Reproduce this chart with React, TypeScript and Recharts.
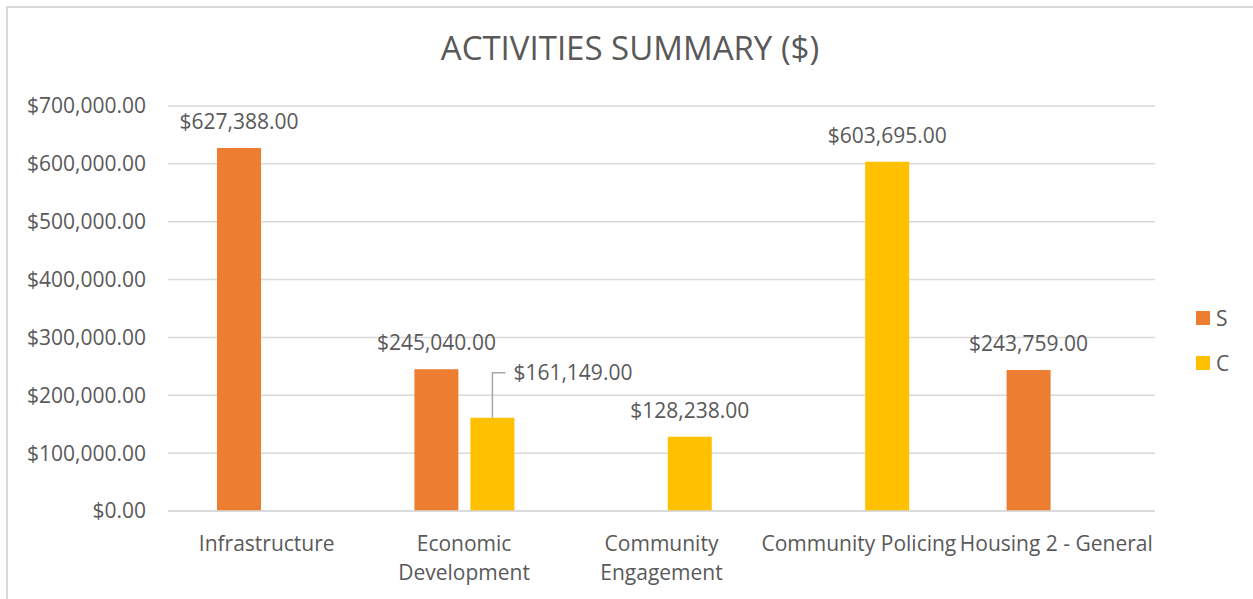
import { Bar, BarChart, CartesianGrid, LabelList, XAxis, YAxis } from "recharts";

const categories = [
  "Infrastructure",
  "Economic Development",
  "Community Engagement",
  "Community Policing",
  "Housing 2 - General",
];

// how Excel wrapped each category label
const tickLines = [
  ["Infrastructure"],
  ["Economic", "Development"],
  ["Community", "Engagement"],
  ["Community Policing"],
  ["Housing 2 - General"],
];

const sValues = [627388, 245040, null, null, 243759];
const cValues = [null, 161149, 128238, 603695, null];

const yTicks = [0, 100000, 200000, 300000, 400000, 500000, 600000, 700000];

const FONT = "'Open Sans', sans-serif";
const FS = 21;
const TEXT = "#595959";
const ORANGE = "#ED7D31";
const YELLOW = "#FFC000";

const data = categories.map((name, i) => ({ name, S: sValues[i], C: cValues[i] }));

const money = (v: number) =>
  "$" + v.toLocaleString("en-US", { minimumFractionDigits: 2, maximumFractionDigits: 2 });

function CategoryTick(props: any) {
  const { x, y, index } = props;
  const lines = tickLines[index] || [];
  return (
    <g>
      {lines.map((line, i) => (
        <text
          key={i}
          x={x}
          y={y + 32 + i * 29}
          textAnchor="middle"
          fill={TEXT}
          fontSize={FS}
          fontFamily={FONT}
        >
          {line}
        </text>
      ))}
    </g>
  );
}

function topLabel(props: any) {
  const { x, y, width, value } = props;
  if (value == null) return null;
  return (
    <text
      x={x + width / 2}
      y={y - 19}
      textAnchor="middle"
      fill={TEXT}
      fontSize={FS}
      fontFamily={FONT}
    >
      {money(value)}
    </text>
  );
}

// C label in Economic Development was dragged aside in Excel, with a leader line
function cLabel(props: any) {
  const { x, y, width, value } = props;
  if (value == null) return null;
  if (value === cValues[1]) {
    const cx = x + width / 2;
    const ly = y - 45;
    return (
      <g>
        <polyline
          points={`${cx},${y} ${cx},${ly} ${cx + 13},${ly}`}
          fill="none"
          stroke="#a6a6a6"
          strokeWidth={1.5}
        />
        <text x={cx + 21} y={ly + 7} fill={TEXT} fontSize={FS} fontFamily={FONT}>
          {money(value)}
        </text>
      </g>
    );
  }
  return topLabel(props);
}

const legendItems = [
  { name: "S", color: ORANGE },
  { name: "C", color: YELLOW },
];

export default function App() {
  return (
    <div
      style={{
        position: "absolute",
        left: 0,
        top: 0,
        width: 1253,
        height: 599,
        background: "#fff",
        overflow: "hidden",
      }}
    >
      <div
        style={{
          position: "absolute",
          left: 6,
          top: 6,
          width: 1260,
          height: 610,
          borderTop: "2px solid #d9d9d9",
          borderLeft: "2px solid #d9d9d9",
        }}
      />
      <div
        style={{
          position: "absolute",
          left: 630,
          top: 25,
          transform: "translateX(-50%)",
          whiteSpace: "nowrap",
          fontFamily: FONT,
          fontSize: 33,
          color: TEXT,
        }}
      >
        ACTIVITIES SUMMARY ($)
      </div>
      <div
        style={{
          position: "absolute",
          left: 1196,
          top: 295,
          fontFamily: FONT,
          fontSize: FS,
          color: TEXT,
        }}
      >
        {legendItems.map((it) => (
          <div key={it.name} style={{ display: "flex", alignItems: "center", height: 45 }}>
            <span style={{ width: 14, height: 14, background: it.color, marginRight: 6 }} />
            <span>{it.name}</span>
          </div>
        ))}
      </div>
      <BarChart
        width={1253}
        height={599}
        data={data}
        margin={{ top: 106, right: 98, bottom: 0, left: 0 }}
        barSize={44}
        barGap={12}
        style={{ position: "absolute", left: 0, top: 0 }}
      >
        <CartesianGrid vertical={false} stroke="#d9d9d9" strokeWidth={1.5} />
        <XAxis
          dataKey="name"
          height={88}
          tickLine={false}
          axisLine={{ stroke: "#d9d9d9", strokeWidth: 1.5 }}
          tick={<CategoryTick />}
          interval={0}
        />
        <YAxis
          width={168}
          domain={[0, 700000]}
          ticks={yTicks}
          axisLine={false}
          tickLine={false}
          tickMargin={16}
          tickFormatter={(v: number) => money(v)}
          tick={{ fill: TEXT, fontSize: FS, fontFamily: FONT }}
        />
        <Bar dataKey="S" name="S" fill={ORANGE} isAnimationActive={false}>
          <LabelList dataKey="S" content={topLabel} />
        </Bar>
        <Bar dataKey="C" name="C" fill={YELLOW} isAnimationActive={false}>
          <LabelList dataKey="C" content={cLabel} />
        </Bar>
      </BarChart>
    </div>
  );
}
